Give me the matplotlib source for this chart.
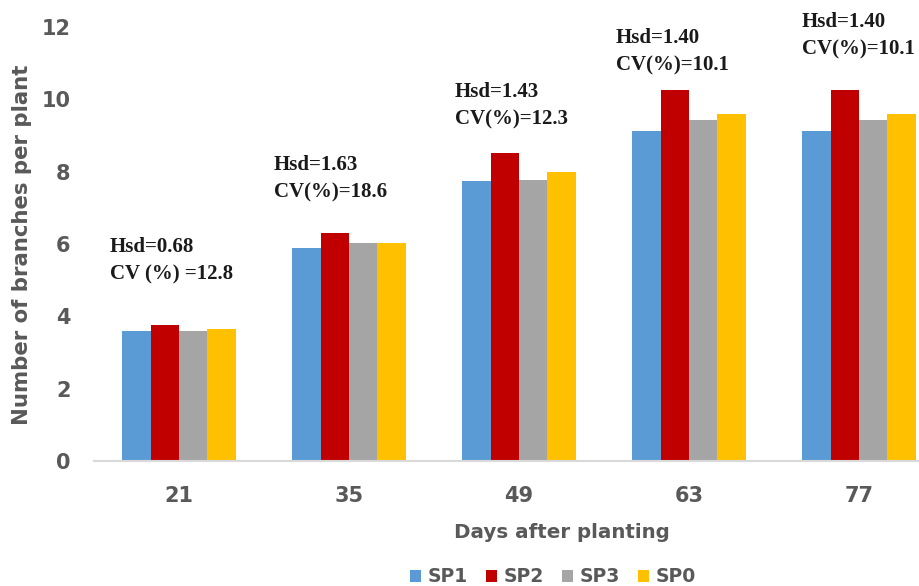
import matplotlib
matplotlib.use("Agg")
import matplotlib.pyplot as plt
import numpy as np

# ---- data ----
days = ["21", "35", "49", "63", "77"]
series_names = ["SP1", "SP2", "SP3", "SP0"]
sp1 = [3.59, 5.88, 7.73, 9.12, 9.12]
sp2 = [3.75, 6.30, 8.51, 10.27, 10.27]
sp3 = [3.59, 6.03, 7.78, 9.44, 9.44]
sp0 = [3.65, 6.03, 7.99, 9.59, 9.59]
hsd_labels = ["Hsd=0.68", "Hsd=1.63", "Hsd=1.43", "Hsd=1.40", "Hsd=1.40"]
cv_labels = ["CV (%) =12.8", "CV(%)=18.6", "CV(%)=12.3", "CV(%)=10.1", "CV(%)=10.1"]
yticks = [0, 2, 4, 6, 8, 10, 12]

# ---- layout / style ----
colors = ["#5B9BD5", "#C00000", "#A5A5A5", "#FFC000"]
text_gray = "#595959"
ann_x = [-0.406, 0.559, 1.624, 2.571, 3.665]
ann_base = [5.77, 8.04, 10.06, 11.55, 11.99]
line_gap = 0.75

fig = plt.figure(figsize=(9.2, 5.86), dpi=100)
ax = fig.add_axes([94 / 920, 125 / 586, 850 / 920, 434 / 586])

x = np.arange(len(days))
w = 0.1676
all_series = [sp1, sp2, sp3, sp0]
for i, (vals, name, c) in enumerate(zip(all_series, series_names, colors)):
    ax.bar(x + (i - 1.5) * w, vals, width=w, color=c, label=name, zorder=2)

ax.set_xlim(-0.5, len(days) - 0.5)
ax.set_ylim(0, 12)
ax.set_yticks(yticks)
ax.set_xticks(x)
ax.set_xticklabels(days)

for s in ["top", "right", "left"]:
    ax.spines[s].set_visible(False)
ax.spines["bottom"].set_color("#D9D9D9")
ax.spines["bottom"].set_linewidth(1.5)

ax.tick_params(axis="both", length=0, colors=text_gray)
ax.tick_params(axis="y", pad=17)
ax.tick_params(axis="x", pad=18)
for lab in ax.get_xticklabels() + ax.get_yticklabels():
    lab.set_fontfamily("DejaVu Sans")
    lab.set_fontweight("heavy")
    lab.set_fontsize(15)

for xi, yb, h, cv in zip(ann_x, ann_base, hsd_labels, cv_labels):
    ax.text(xi, yb, h, ha="left", va="baseline", family="Liberation Serif",
            weight="bold", fontsize=15, color="#1a1a1a", clip_on=False)
    ax.text(xi, yb - line_gap, cv, ha="left", va="baseline", family="Liberation Serif",
            weight="bold", fontsize=15, color="#1a1a1a", clip_on=False)

fig.text(562 / 920, 1 - 532 / 586, "Days after planting", ha="center", va="center",
         family="DejaVu Sans", weight="heavy", fontsize=14.3, color=text_gray)
fig.text(22 / 920, 1 - 245 / 586, "Number of branches per plant", ha="center", va="center",
         rotation=90, family="DejaVu Sans", weight="heavy", fontsize=15.3, color=text_gray)

handles, labels = ax.get_legend_handles_labels()
leg = fig.legend(handles, labels, loc="center", bbox_to_anchor=(553 / 920, 1 - 577 / 586),
                 ncol=4, frameon=False, handlelength=0.6, handleheight=0.6,
                 handletextpad=0.35, columnspacing=0.95,
                 prop=dict(family="DejaVu Sans", weight="heavy", size=13.5))
for t in leg.get_texts():
    t.set_color(text_gray)

fig.savefig("out.png", dpi=100)
